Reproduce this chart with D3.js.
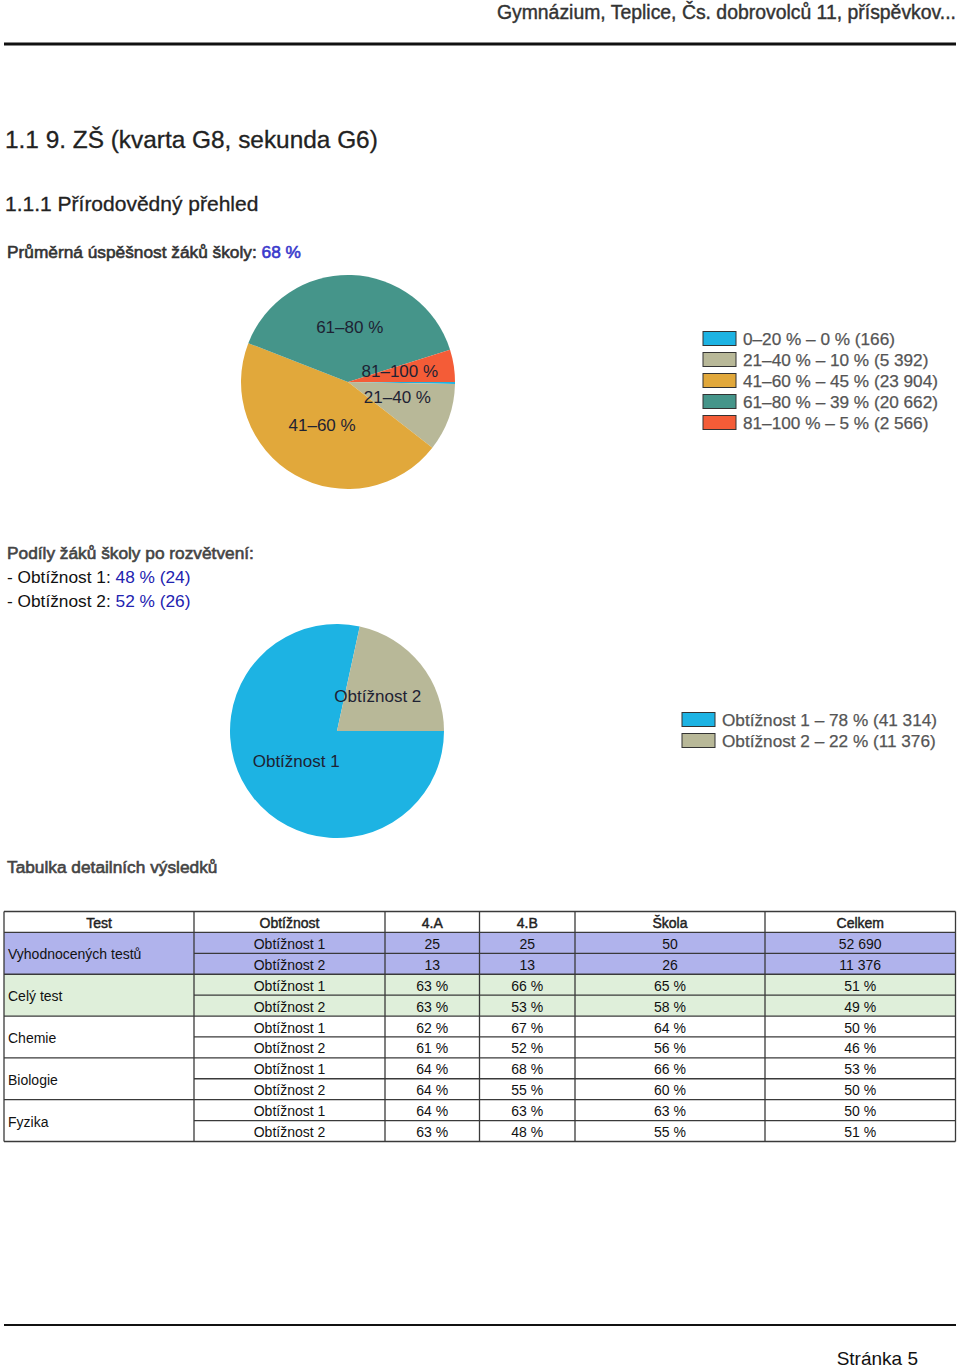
<!DOCTYPE html>
<html><head><meta charset="utf-8">
<script src="https://cdn.jsdelivr.net/npm/d3@7"></script>
<style>
html,body{margin:0;padding:0;background:#fff;}
svg{display:block;font-family:"Liberation Sans",Arial,sans-serif;}
</style></head>
<body>
<svg id="page" width="960" height="1368"></svg>
<script>
// ---------- DATA ----------
const headerText = "Gymnázium, Teplice, Čs. dobrovolců 11, příspěvkov...";
const chapterTitle = "1.1 9. ZŠ (kvarta G8, sekunda G6)";
const sectionTitle = "1.1.1 Přírodovědný přehled";
const avgLabel = "Průměrná úspěšnost žáků školy: ";
const avgValue = "68 %";
const branchTitle = "Podíly žáků školy po rozvětvení:";
const branchNames = ["Obtížnost 1", "Obtížnost 2"];
const branchPercents = [48, 52];
const branchCounts = [24, 26];
const tableTitle = "Tabulka detailních výsledků";
const footerText = "Stránka 5";

const pie1Categories = ["0–20 %", "21–40 %", "41–60 %", "61–80 %", "81–100 %"];
const pie1Counts = [166, 5392, 23904, 20662, 2566];
const pie1Percents = [0, 10, 45, 39, 5];
const pie1CountLabels = ["166", "5 392", "23 904", "20 662", "2 566"];
const pie1Colors = ["#1db3e3", "#b8b898", "#e1a83b", "#45958a", "#f45c37"];

const pie2Categories = ["Obtížnost 1", "Obtížnost 2"];
const pie2Counts = [41314, 11376];
const pie2Percents = [78, 22];
const pie2CountLabels = ["41 314", "11 376"];
const pie2Colors = ["#1db3e3", "#b8b898"];

const tableColumns = ["Test", "Obtížnost", "4.A", "4.B", "Škola", "Celkem"];
const tableTests = ["Vyhodnocených testů", "Celý test", "Chemie", "Biologie", "Fyzika"];
const tableLevels = ["Obtížnost 1", "Obtížnost 2"];
const col4A = [["25", "13"], ["63 %", "63 %"], ["62 %", "61 %"], ["64 %", "64 %"], ["64 %", "63 %"]];
const col4B = [["25", "13"], ["66 %", "53 %"], ["67 %", "52 %"], ["68 %", "55 %"], ["63 %", "48 %"]];
const colSkola = [["50", "26"], ["65 %", "58 %"], ["64 %", "56 %"], ["66 %", "60 %"], ["63 %", "55 %"]];
const colCelkem = [["52 690", "11 376"], ["51 %", "49 %"], ["50 %", "46 %"], ["53 %", "50 %"], ["50 %", "51 %"]];
const groupFills = ["#b0b3ec", "#dfefda", "#ffffff", "#ffffff", "#ffffff"];

// ---------- LAYOUT ----------
const svg = d3.select("#page");
const heavy = (sel, color, w) => sel.attr("fill", color).attr("stroke", color).attr("stroke-width", w).attr("paint-order", "stroke");

// header
heavy(svg.append("text").attr("x", 956).attr("y", 19).attr("text-anchor", "end")
  .attr("font-size", 19.4).text(headerText), "#333", 0.4);
svg.append("line").attr("x1", 4).attr("x2", 956).attr("y1", 44).attr("y2", 44)
  .attr("stroke", "#111").attr("stroke-width", 3);

heavy(svg.append("text").attr("x", 5).attr("y", 148).attr("font-size", 24.4).text(chapterTitle), "#222", 0.3);
heavy(svg.append("text").attr("x", 5).attr("y", 211).attr("font-size", 21).text(sectionTitle), "#222", 0.3);

const avg = svg.append("text").attr("x", 7).attr("y", 258).attr("font-size", 17.3);
heavy(avg.append("tspan").text(avgLabel), "#333", 0.6);
heavy(avg.append("tspan").text(avgValue), "#3a3acc", 0.6);

// ---------- PIE helper ----------
function drawPie(cx, cy, r, cats, counts, colors, labelMin) {
  const pie = d3.pie().sort(null).value(d => d.v)
    .startAngle(Math.PI / 2).endAngle(Math.PI / 2 + 2 * Math.PI);
  const data = pie(cats.map((c, i) => ({ c, v: counts[i], col: colors[i] })));
  const arc = d3.arc().innerRadius(0).outerRadius(r);
  const lab = d3.arc().innerRadius(r * 0.49).outerRadius(r * 0.49);
  const g = svg.append("g").attr("transform", `translate(${cx},${cy})`);
  g.selectAll("path").data(data).join("path")
    .attr("d", arc).attr("fill", d => d.data.col);
  const total = d3.sum(counts);
  g.selectAll("text").data(data.filter(d => d.data.v / total > labelMin)).join("text")
    .attr("transform", d => `translate(${lab.centroid(d)})`)
    .attr("text-anchor", "middle").attr("dy", "0.2em")
    .attr("font-size", 17).attr("fill", "#1e2233").text(d => d.data.c);
}
function drawLegend(x, y0, cats, pcts, cnts, colors) {
  const yS = d3.scaleBand().domain(d3.range(cats.length)).range([y0, y0 + 21 * cats.length]);
  const g = svg.append("g");
  cats.forEach((c, i) => {
    g.append("rect").attr("x", x).attr("y", yS(i) + 3.5).attr("width", 33).attr("height", 14)
      .attr("fill", colors[i]).attr("stroke", "#333").attr("stroke-width", 1);
    heavy(g.append("text").attr("x", x + 40).attr("y", yS(i) + 16.5).attr("font-size", 17.2)
      .text(`${c} – ${pcts[i]} % (${cnts[i]})`), "#555", 0.25);
  });
}

drawPie(348, 382, 107, pie1Categories, pie1Counts, pie1Colors, 0.01);
drawLegend(703, 328, pie1Categories, pie1Percents, pie1CountLabels, pie1Colors);

// branch text
heavy(svg.append("text").attr("x", 7).attr("y", 559).attr("font-size", 17.3).text(branchTitle), "#444", 0.6);
branchNames.forEach((b, i) => {
  const t = svg.append("text").attr("x", 7).attr("y", 583 + i * 24).attr("font-size", 17.3);
  t.append("tspan").attr("fill", "#111").text(`- ${b}: `);
  t.append("tspan").attr("fill", "#2222b0").text(`${branchPercents[i]} % (${branchCounts[i]})`);
});

drawPie(337, 731, 107, pie2Categories, pie2Counts, pie2Colors, 0.01);
drawLegend(682, 709, pie2Categories, pie2Percents, pie2CountLabels, pie2Colors);

heavy(svg.append("text").attr("x", 7).attr("y", 873).attr("font-size", 17.3).text(tableTitle), "#444", 0.6);

// ---------- TABLE ----------
const colEdges = [4, 194, 385, 479.5, 575, 765, 955.5];
const nRows = 1 + tableTests.length * 2;
const yRow = d3.scaleBand().domain(d3.range(nRows)).range([911.5, 1141.5]);
const rh = yRow.bandwidth();
const tbl = svg.append("g");
const valueCols = [col4A, col4B, colSkola, colCelkem];

// backgrounds
tableTests.forEach((t, gi) => {
  tbl.append("rect").attr("x", colEdges[0]).attr("y", yRow(1 + gi * 2))
    .attr("width", colEdges[6] - colEdges[0]).attr("height", rh * 2).attr("fill", groupFills[gi]);
});
// header texts
tableColumns.forEach((c, ci) => {
  heavy(tbl.append("text").attr("x", (colEdges[ci] + colEdges[ci + 1]) / 2).attr("y", yRow(0) + rh / 2 + 1)
    .attr("dy", "0.36em").attr("text-anchor", "middle").attr("font-size", 14).text(c), "#222", 0.45);
});
// body
tableTests.forEach((t, gi) => {
  const r0 = 1 + gi * 2;
  tbl.append("text").attr("x", colEdges[0] + 4).attr("y", yRow(r0) + rh + 1)
    .attr("dy", "0.36em").attr("font-size", 14).attr("fill", "#111").text(t);
  tableLevels.forEach((lv, li) => {
    const y = yRow(r0 + li) + rh / 2 + 1;
    tbl.append("text").attr("x", (colEdges[1] + colEdges[2]) / 2).attr("y", y).attr("dy", "0.36em")
      .attr("text-anchor", "middle").attr("font-size", 14).attr("fill", "#111").text(lv);
    valueCols.forEach((vc, vi) => {
      tbl.append("text").attr("x", (colEdges[vi + 2] + colEdges[vi + 3]) / 2).attr("y", y).attr("dy", "0.36em")
        .attr("text-anchor", "middle").attr("font-size", 14).attr("fill", "#111").text(vc[gi][li]);
    });
  });
});
// grid lines
const lineCol = "#3a3a3a";
d3.range(nRows + 1).forEach(r => {
  const y = r === nRows ? yRow.range()[1] : yRow(r);
  const x1 = (r === 0 || r === nRows || (r - 1) % 2 === 0) ? colEdges[0] : colEdges[1];
  tbl.append("line").attr("x1", x1).attr("x2", colEdges[6]).attr("y1", y).attr("y2", y)
    .attr("stroke", lineCol).attr("stroke-width", 1.3);
});
colEdges.forEach(x => {
  tbl.append("line").attr("x1", x).attr("x2", x).attr("y1", yRow.range()[0]).attr("y2", yRow.range()[1])
    .attr("stroke", lineCol).attr("stroke-width", 1.3);
});

// footer
svg.append("line").attr("x1", 4).attr("x2", 956).attr("y1", 1325).attr("y2", 1325)
  .attr("stroke", "#111").attr("stroke-width", 2);
svg.append("text").attr("x", 918).attr("y", 1365).attr("text-anchor", "end").attr("font-size", 19)
  .attr("fill", "#111").text(footerText);
</script>
</body></html>
